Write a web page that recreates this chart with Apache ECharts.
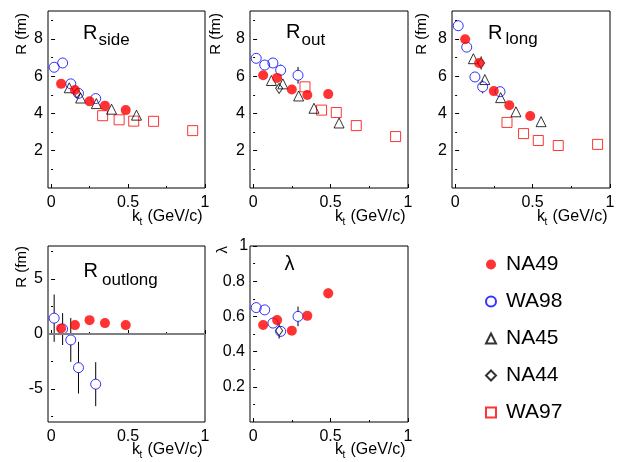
<!DOCTYPE html>
<html><head><meta charset="utf-8">
<script src="https://cdn.jsdelivr.net/npm/echarts@6/dist/echarts.min.js"></script>
<style>html,body{margin:0;padding:0;background:#fff}#c{width:618px;height:462px}</style>
</head><body><div id="c"></div>
<script>
const FONT = '"Liberation Sans", Arial, Helvetica, sans-serif';

// ---- data ----
const experiments = ['NA49', 'WA98', 'NA45', 'NA44', 'WA97'];

const na49Kt = [0.065, 0.155, 0.25, 0.35, 0.485];
const wa98Kt = [0.02, 0.075, 0.128, 0.178, 0.29];
const na45Kt = [0.118, 0.192, 0.294, 0.393, 0.555];
const na44Kt = [0.168];
const wa97Kt = [0.335, 0.442, 0.537, 0.666, 0.92];

const na49Side = [5.59, 5.26, 4.65, 4.42, 4.18];
const na49Out = [6.05, 5.91, 5.29, 4.99, 5.04];
const na49Long = [7.98, 6.71, 5.20, 4.44, 3.86];
const na49OutLong = [0.51, 0.81, 1.26, 0.99, 0.81];
const na49Lambda = [0.551, 0.579, 0.519, 0.603, 0.731];

const wa98Side = [6.48, 6.71, 5.59, 5.08, 4.80];
const wa98Out = [6.96, 6.60, 6.71, 6.32, 6.05];
const wa98Long = [8.71, 7.56, 5.96, 5.43, 5.17];
const wa98OutLong = [1.44, 0.45, -0.54, -3.06, -4.56];
const wa98Lambda = [0.650, 0.637, 0.562, 0.515, 0.600];

const na45Side = [5.38, 4.83, 4.53, 4.23, 3.91];
const na45Out = [5.77, 5.59, 4.94, 4.28, 3.49];
const na45Long = [6.94, 5.82, 4.85, 4.09, 3.56];

const na44Side = [5.10];
const na44Out = [5.35];
const na44Long = [6.71];
const na44Lambda = [0.519];

const wa97Side = [3.88, 3.66, 3.59, 3.58, 3.08];
const wa97Out = [5.43, 4.18, 4.05, 3.35, 2.76];
const wa97Long = [3.52, 2.92, 2.55, 2.28, 2.34];

// errors
const na49SideErr = [0.05, 0.05, 0.05, 0.05, 0.05];
const na49OutErr = [0.05, 0.05, 0.05, 0.05, 0.05];
const na49LongErr = [0.05, 0.05, 0.05, 0.05, 0.05];
const na49OutLongErr = [0.3, 0.3, 0.3, 0.3, 0.3];
const na49LambdaErr = [0.01, 0.01, 0.01, 0.01, 0.03];
const wa98SideErr = [0.1, 0.1, 0.1, 0.1, 0.15];
const wa98OutErr = [0.1, 0.1, 0.15, 0.3, 0.45];
const wa98LongErr = [0.1, 0.1, 0.1, 0.35, 0.1];
const wa98OutLongErr = [2.15, 1.45, 2.0, 2.35, 2.0];
const wa98LambdaErr = [0.01, 0.01, 0.01, 0.03, 0.056];
const na44SideErr = [0.2];
const na44OutErr = [0.25];
const na44LongErr = [0.35];
const na44LambdaErr = [0.045];
const wa97SideErr = [0.1, 0.1, 0.1, 0.1, 0.2];
const wa97OutErr = [0.1, 0.1, 0.1, 0.1, 0.25];
const wa97LongErr = [0.1, 0.1, 0.1, 0.1, 0.25];

// tick labels
const ktTicks = [0, 0.5, 1];
const ktMinor = [0.25, 0.75];
const rTicks = [2, 4, 6, 8];
const rMinor = [1, 3, 5, 7, 9];
const olTicks = [-5, 0, 5];
const olMinor = [-7.5, -2.5, 2.5, 7.5];
const lamTicks = [0.2, 0.4, 0.6, 0.8, 1];
const lamMinor = [0.1, 0.3, 0.5, 0.7, 0.9];

// ---- layout / style ----
const grids = [
  {left: 48, top: 11, width: 157, height: 177},
  {left: 250, top: 11, width: 158, height: 177},
  {left: 452, top: 11, width: 158, height: 177},
  {left: 48, top: 246, width: 157, height: 176},
  {left: 250, top: 246, width: 158, height: 176}
];
const yRanges = [[0, 9.5, rTicks, rMinor], [0, 9.5, rTicks, rMinor], [0, 9.5, rTicks, rMinor],
                 [-8, 8, olTicks, olMinor], [0, 1, lamTicks, lamMinor]];

const styles = {
  NA49: {symbol: 'circle', size: 10, item: {color: '#ff0000'}},
  WA98: {symbol: 'circle', size: 10, item: {color: 'rgba(255,255,255,0)', borderColor: '#0000ff', borderWidth: 1}},
  NA45: {symbol: 'triangle', size: 10, item: {color: 'rgba(255,255,255,0)', borderColor: '#000000', borderWidth: 1}},
  NA44: {symbol: 'diamond', size: [7, 10], item: {color: 'rgba(255,255,255,0)', borderColor: '#000000', borderWidth: 1}},
  WA97: {symbol: 'rect', size: 10, item: {color: 'rgba(255,255,255,0)', borderColor: '#ff0000', borderWidth: 1}}
};

const labelStyle = {fontSize: 16, fontFamily: FONT, color: '#000', showMinLabel: true, showMaxLabel: true, hideOverlap: false};
const xAxes = [], yAxes = [];
grids.forEach((g, i) => {
  xAxes.push({type: 'value', gridIndex: i, position: 'bottom', min: -0.02, max: 1,
    axisLine: {show: false}, splitLine: {show: false},
    axisTick: {show: true, inside: true, length: 4, customValues: ktTicks, lineStyle: {color: '#000'}},
    axisLabel: Object.assign({show: true, customValues: ktTicks, margin: 7}, labelStyle)});
  xAxes.push({type: 'value', gridIndex: i, position: 'bottom', min: -0.02, max: 1,
    axisLine: {show: false}, splitLine: {show: false}, axisLabel: {show: false},
    axisTick: {show: true, inside: true, length: 2, customValues: ktMinor, lineStyle: {color: '#000'}}});
  const yr = yRanges[i];
  const labelVals = yr[2].filter(v => v < yr[1]);
  const edgeVals = yr[2].filter(v => v >= yr[1]);
  const ax = {type: 'value', gridIndex: i, position: 'left', min: yr[0], max: yr[1],
    axisLine: {show: false}, splitLine: {show: false},
    axisTick: {show: true, inside: true, length: 4, customValues: yr[2], lineStyle: {color: '#000'}},
    axisLabel: Object.assign({show: true, customValues: labelVals, margin: 5}, labelStyle)};
  if (edgeVals.length) {
    // the tick label sitting on the top edge is shown as the axis name at the axis end
    ax.name = String(edgeVals[0]);
    ax.nameLocation = 'end';
    ax.nameGap = 0;
    ax.nameMoveOverlap = false;
    ax.nameTextStyle = {fontSize: 16, fontFamily: FONT, color: '#000', align: 'right',
      verticalAlign: 'middle', padding: [0, 5, 0, 0]};
  }
  yAxes.push(ax);
  yAxes.push({type: 'value', gridIndex: i, position: 'left', min: yr[0], max: yr[1],
    axisLine: {show: false}, splitLine: {show: false}, axisLabel: {show: false},
    axisTick: {show: true, inside: true, length: 2, customValues: yr[3], lineStyle: {color: '#000'}}});
});

function errRender(params, api) {
  const x = api.value(0), y = api.value(1), e = api.value(2);
  const c = api.coord([x, y]);
  const top = api.coord([x, y + e])[1];
  const bot = api.coord([x, y - e])[1];
  const r = 5;
  const ch = [];
  if (c[1] - top > r) ch.push({type: 'line', shape: {x1: c[0], y1: top, x2: c[0], y2: c[1] - r}, style: {stroke: '#000', lineWidth: 1}});
  if (bot - c[1] > r) ch.push({type: 'line', shape: {x1: c[0], y1: c[1] + r, x2: c[0], y2: bot}, style: {stroke: '#000', lineWidth: 1}});
  return {type: 'group', children: ch};
}

const series = [];
function addPanel(gi, list) {
  list.forEach(([name, kt, vals, errs]) => {
    if (errs) {
      series.push({type: 'custom', name: name + '_err', xAxisIndex: 2 * gi, yAxisIndex: 2 * gi,
        silent: true, z: 1, renderItem: errRender, encode: {x: 0, y: 1},
        data: kt.map((k, i) => [k, vals[i], errs[i]])});
    }
  });
  list.forEach(([name, kt, vals]) => {
    const st = styles[name];
    series.push({type: 'scatter', name: name, xAxisIndex: 2 * gi, yAxisIndex: 2 * gi,
      symbol: st.symbol, symbolSize: st.size, itemStyle: st.item, z: 2, silent: true,
      emphasis: {disabled: true},
      data: kt.map((k, i) => [k, vals[i]])});
  });
}
addPanel(0, [['WA97', wa97Kt, wa97Side, wa97SideErr], ['NA45', na45Kt, na45Side], ['NA44', na44Kt, na44Side, na44SideErr],
             ['WA98', wa98Kt, wa98Side, wa98SideErr], ['NA49', na49Kt, na49Side, na49SideErr]]);
addPanel(1, [['WA97', wa97Kt, wa97Out, wa97OutErr], ['NA45', na45Kt, na45Out], ['NA44', na44Kt, na44Out, na44OutErr],
             ['WA98', wa98Kt, wa98Out, wa98OutErr], ['NA49', na49Kt, na49Out, na49OutErr]]);
addPanel(2, [['WA97', wa97Kt, wa97Long, wa97LongErr], ['NA45', na45Kt, na45Long], ['NA44', na44Kt, na44Long, na44LongErr],
             ['WA98', wa98Kt, wa98Long, wa98LongErr], ['NA49', na49Kt, na49Long, na49LongErr]]);
series.push({type: 'line', name: 'zero', xAxisIndex: 6, yAxisIndex: 6, data: [], silent: true, z: 0,
  markLine: {silent: true, symbol: ['none', 'none'], label: {show: false}, animation: false,
    lineStyle: {color: '#808080', width: 2, type: 'solid'}, data: [{yAxis: 0}]}});
addPanel(3, [['WA98', wa98Kt, wa98OutLong, wa98OutLongErr], ['NA49', na49Kt, na49OutLong, na49OutLongErr]]);
addPanel(4, [['NA44', na44Kt, na44Lambda, na44LambdaErr], ['WA98', wa98Kt, wa98Lambda, wa98LambdaErr],
             ['NA49', na49Kt, na49Lambda, na49LambdaErr]]);

// ---- text elements ----
const graphic = [];
function txt(text, x, y, size, opts) {
  const o = Object.assign({align: 'left', rot: 0}, opts || {});
  graphic.push({type: 'text', x: x, y: y, rotation: o.rot, silent: true, z: 100,
    style: {text: text, fontSize: size, fontFamily: FONT, fill: '#000', align: o.align, verticalAlign: 'middle'}});
}
txt('R', 83, 33.3, 20); txt('side', 98.5, 40.7, 17);
txt('R', 286, 32.5, 20); txt('out', 301.5, 40, 17);
txt('R', 488, 33, 20); txt('long', 505.5, 39, 17);
txt('R', 83.5, 271.3, 20); txt('outlong', 102, 280.7, 17);
txt('λ', 284.5, 264.7, 20);
txt('R (fm)', 21.5, 13, 15, {align: 'right', rot: Math.PI / 2});
txt('R (fm)', 215.5, 13, 15, {align: 'right', rot: Math.PI / 2});
txt('R (fm)', 422, 13, 15, {align: 'right', rot: Math.PI / 2});
txt('R (fm)', 21.5, 246, 15, {align: 'right', rot: Math.PI / 2});
txt('λ', 223, 246, 15, {align: 'right', rot: Math.PI / 2});
function ktTitle(right, yMid) {
  txt('k', right - 73, yMid, 16);
  txt('t', right - 65.5, yMid + 5.5, 10);
  txt('(GeV/c)', right - 57.5, yMid, 16);
}
ktTitle(205, 217); ktTitle(408, 217); ktTitle(610, 217);
ktTitle(205, 449.5); ktTitle(408, 449.5);

const chart = echarts.init(document.getElementById('c'), null, {renderer: 'canvas'});
chart.setOption({
  animation: false,
  backgroundColor: '#fff',
  grid: grids.map(g => Object.assign({show: true, borderColor: '#000', borderWidth: 1, backgroundColor: 'transparent', containLabel: false}, g)),
  xAxis: xAxes,
  yAxis: yAxes,
  legend: {data: experiments, orient: 'vertical', left: 480, top: 249, itemWidth: 10, itemHeight: 10,
    itemGap: 16, selectedMode: false, symbolKeepAspect: true,
    textStyle: {fontSize: 21, fontFamily: FONT, color: '#000', padding: [0, 0, 0, 5]}},
  graphic: graphic,
  series: series
});
</script></body></html>
